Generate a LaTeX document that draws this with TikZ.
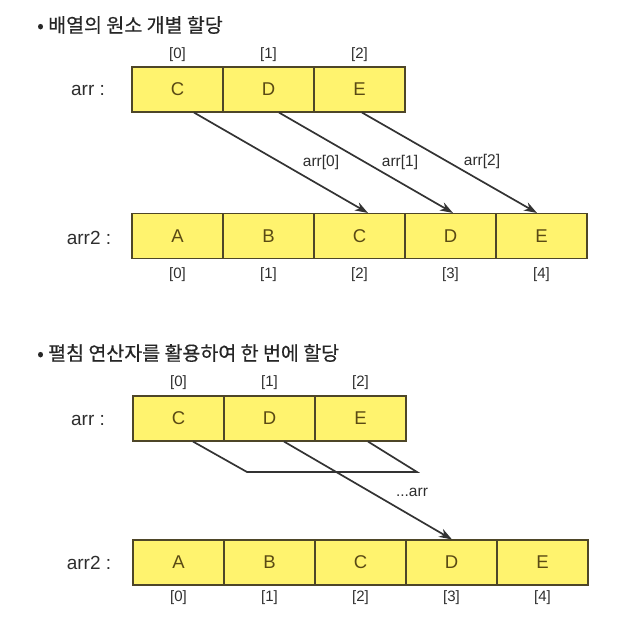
\documentclass[tikz,border=0pt]{standalone}
\usepackage{fontspec}
\setmainfont{Liberation Sans}
\newfontfamily\kr[FakeBold=0.5]{Noto Sans CJK KR}
\usetikzlibrary{arrows.meta,calc}
\definecolor{cellfill}{HTML}{FFF36E}
\definecolor{cellborder}{HTML}{4E4628}
\definecolor{celltext}{HTML}{5A4A14}
\definecolor{labtext}{HTML}{2E2E2E}
\definecolor{conn}{HTML}{333333}
\tikzset{
  cell/.style={draw=cellborder, fill=cellfill, line width=1.1pt, minimum width=91pt, minimum height=45pt,
    inner sep=0pt, text=celltext, font=\fontsize{18.5}{18.5}\selectfont},
  idx/.style={text=labtext, inner sep=0pt, font=\fontsize{15}{15}\selectfont},
  arrlab/.style={text=labtext, inner sep=0pt, font=\fontsize{19}{19}\selectfont},
  conlab/.style={text=labtext, inner sep=0pt, font=\fontsize{15.5}{15.5}\selectfont},
  titlelab/.style={text=black!85, inner sep=0pt, anchor=west, font=\kr\fontsize{19.5}{19.5}\selectfont},
  conline/.style={draw=conn, line width=1.7pt},
  conarrow/.style={conline, -{Stealth[length=13pt,width=9pt,inset=4pt]}}
}
\begin{document}
\begin{tikzpicture}[x=1pt,y=-1pt]
\useasboundingbox (0,0) rectangle (632,626);
% ---------- section 1 ----------
\node[titlelab] (t1) at (37,25) {• 배열의 원소 개별 할당};
\node[arrlab] (l1a) at (88,90) {arr :};
\node[arrlab] (l1b) at (89,238) {arr2 :};
\foreach \i/\t in {0/C,1/D,2/E}{
  \node[cell] (a\i) at (177.5+91*\i,89.5) {\t};
  \node[idx] (ai\i) at (177.5+91*\i,55) {[\i]};
}
\foreach \i/\t in {0/A,1/B,2/C,3/D,4/E}{
  \node[cell] (b\i) at (177.5+91*\i,236) {\t};
  \node[idx] (bi\i) at (177.5+91*\i,275) {[\i]};
}
\draw[conarrow] ([xshift=16.5pt]a0.south) -- ([xshift=8.5pt]b2.north);
\draw[conarrow] ([xshift=10.5pt]a1.south) -- ([xshift=2.5pt]b3.north);
\draw[conarrow] ([xshift=2.5pt]a2.south) -- ([xshift=-4.5pt]b4.north);
\node[conlab] (c0) at (321,162) {arr[0]};
\node[conlab] (c1) at (400,162) {arr[1]};
\node[conlab] (c2) at (482,161) {arr[2]};
% ---------- section 2 ----------
\node[titlelab] (t2) at (37,353) {• 펼침 연산자를 활용하여 한 번에 할당};
\node[arrlab] (l2a) at (88,420) {arr :};
\node[arrlab] (l2b) at (89,563) {arr2 :};
\foreach \i/\t in {0/C,1/D,2/E}{
  \node[cell] (s\i) at (178.5+91*\i,418.5) {\t};
  \node[idx] (si\i) at (178.5+91*\i,383) {[\i]};
}
\foreach \i/\t in {0/A,1/B,2/C,3/D,4/E}{
  \node[cell] (r\i) at (178.5+91*\i,562.5) {\t};
  \node[idx] (ri\i) at (178.5+91*\i,598) {[\i]};
}
\coordinate (p1) at (247,472);
\coordinate (p2) at (417,472);
\draw[conline] ([xshift=14.5pt]s0.south) -- (p1) -- (p2) -- ([xshift=7.5pt]s2.south);
\draw[conarrow] ([xshift=14.5pt]s1.south) -- ([xshift=0.5pt]r3.north);
\node[conlab] (sp) at (412,492) {...arr};
\end{tikzpicture}
\end{document}
